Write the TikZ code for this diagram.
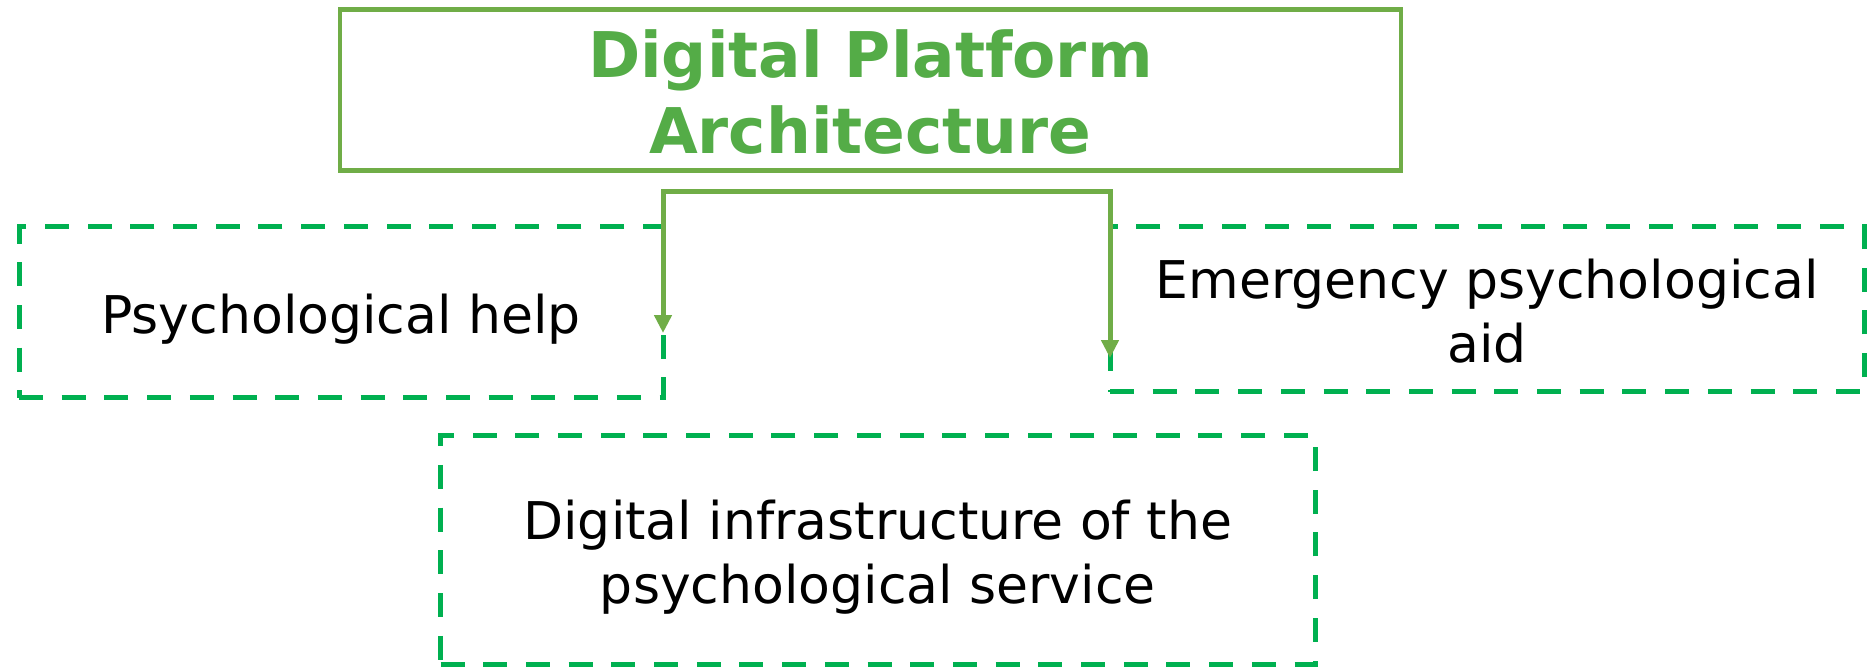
\documentclass[tikz,border=0pt]{standalone}
\usepackage{fontspec}
\setmainfont{DejaVu Sans}
\usetikzlibrary{arrows.meta}
\definecolor{frameGreen}{RGB}{112,173,71}
\definecolor{dashGreen}{RGB}{0,176,80}
\definecolor{titleGreen}{RGB}{84,172,71}
% struts so the lines sit as in the slide
\newcommand{\upstrut}{\rule{0pt}{1.05em}}
\newcommand{\downstrut}{\rule[-0.23em]{0pt}{0.23em}}

\begin{document}
\begin{tikzpicture}[x=1pt,y=1pt,yscale=-1,xscale=1,
  titlebox/.style={draw=frameGreen,line width=4.5pt,inner sep=0pt,align=center,text=titleGreen,
    font=\fontsize{63}{76}\selectfont\bfseries},
  dashbox/.style={draw=dashGreen,line width=5pt,dash pattern={on 24pt off 18.7pt},inner sep=0pt,
    align=center,font=\fontsize{52}{64}\selectfont},
  link/.style={draw=frameGreen,line width=5pt,
    {Triangle[width=17pt,length=18pt]}-{Triangle[width=17pt,length=18pt]}}]
\useasboundingbox (0,0) rectangle (1867,667);

% Text Node
\node [titlebox,minimum width=1061pt,minimum height=161pt] (platform) at (870.3,90) {\upstrut Digital Platform\\Architecture\downstrut};
% Text Node
\node [dashbox,minimum width=644pt,minimum height=171pt] (help) at (341,312.3) {\upstrut Psychological help\downstrut};
% Text Node
\node [dashbox,minimum width=754pt,minimum height=165pt] (aid) at (1487,309.2) {\upstrut Emergency psychological\\aid\downstrut};
% Text Node
\node [dashbox,minimum width=874.5pt,minimum height=228.5pt] (infra) at (877.8,549.8) {\upstrut Digital infrastructure of the\\psychological service\downstrut};

% Connection
\coordinate (helpTip) at (663,333);
\coordinate (aidTip) at (1110,358);
\coordinate (fork) at (886.5,191.7);
\draw [link] (helpTip) -- (helpTip |- fork) -- (aidTip |- fork) -- (aidTip);

\end{tikzpicture}
\end{document}
